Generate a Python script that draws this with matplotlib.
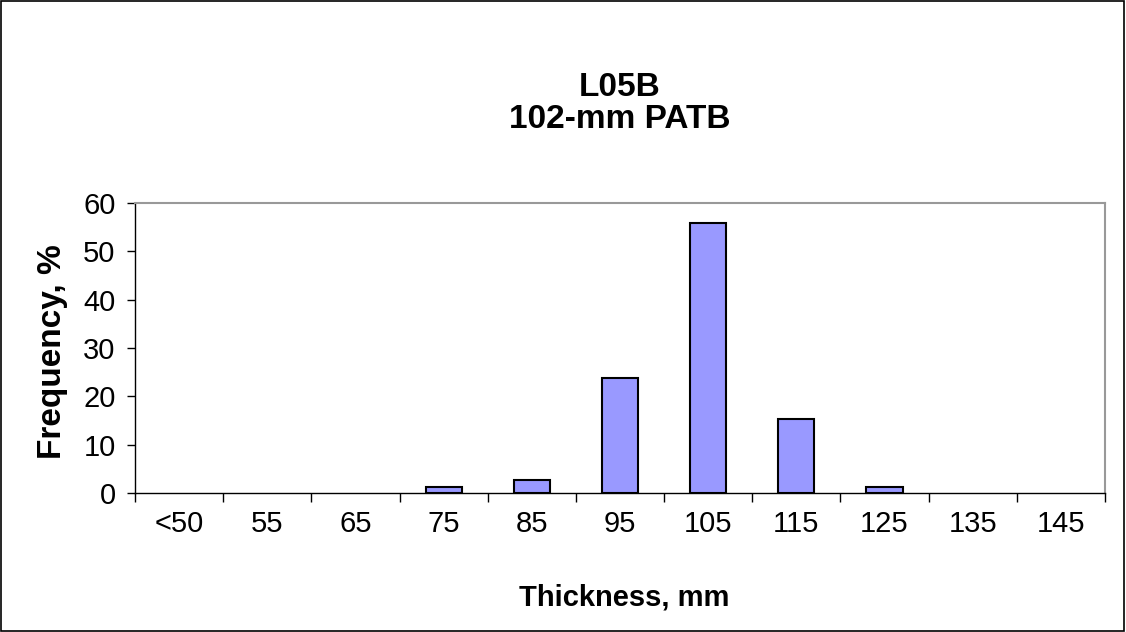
import numpy as np
import matplotlib.pyplot as plt
from matplotlib.patches import Rectangle

plt.rcParams['font.family'] = ['Liberation Sans', 'DejaVu Sans']

categories = ['<50', '55', '65', '75', '85', '95', '105', '115', '125', '135', '145']
frequency = [0, 0, 0, 1.2, 2.7, 23.8, 55.9, 15.3, 1.2, 0, 0]

W, H = 1126, 632
fig = plt.figure(figsize=(W / 100, H / 100), dpi=100)
ax = fig.add_axes([135 / W, 1 - 493 / H, 970 / W, 290 / H])

x = np.arange(len(categories))
lw = [1.5 if v > 0 else 0 for v in frequency]
ax.bar(x, frequency, width=0.41, color='#9999FF', edgecolor='black', linewidth=lw, zorder=3)

ax.set_xlim(-0.5, len(categories) - 0.5)
ax.set_ylim(0, 60)
ax.set_yticks(range(0, 61, 10))
ax.tick_params(axis='y', labelsize=21, direction='out', length=6, width=1, pad=8)

# category labels centred, tick marks between categories
ax.set_xticks(np.arange(-0.5, len(categories), 1))
ax.set_xticklabels([])
ax.set_xticks(x, minor=True)
ax.set_xticklabels(categories, minor=True, fontsize=21)
ax.tick_params(axis='x', which='major', direction='out', length=6.5, width=1)
ax.tick_params(axis='x', which='minor', length=0, pad=12)

for s in ['top', 'right']:
    ax.spines[s].set_color('#999999')
    ax.spines[s].set_linewidth(1.5)
for s in ['left', 'bottom']:
    ax.spines[s].set_color('black')
    ax.spines[s].set_linewidth(1)

fig.text(624 / W, 1 - 597 / H, 'Thickness, mm', ha='center', va='center',
         fontsize=21, fontweight='bold')
fig.text(52 / W, 1 - 352 / H, 'Frequency, %', ha='center', va='center',
         rotation=90, fontsize=24, fontweight='bold')

fig.text(620 / W, 1 - 87 / H, 'L05B', ha='center', va='center',
         fontsize=24, fontweight='bold')
fig.text(620 / W, 1 - 119 / H, '102-mm PATB', ha='center', va='center',
         fontsize=24, fontweight='bold')

fig.patches.append(Rectangle((0.001, 0.002), 0.997, 0.996, transform=fig.transFigure,
                             fill=False, edgecolor='black', linewidth=1.2))

fig.savefig('out.png', dpi=100)
